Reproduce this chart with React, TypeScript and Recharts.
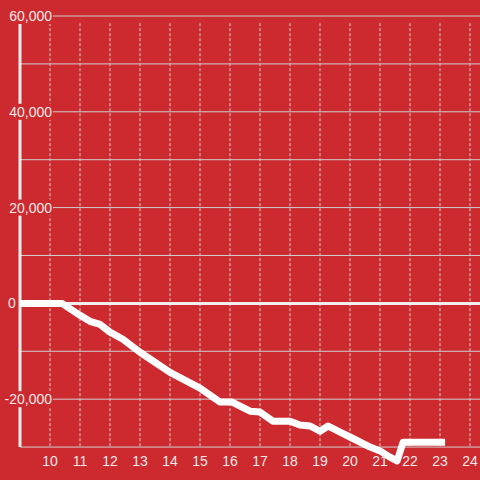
import { LineChart, Line, XAxis, YAxis, ReferenceLine } from "recharts";

// hour of day vs value
const hours = [9, 10.4, 11, 11.33, 11.67, 12, 12.43, 13, 14, 15, 15.67, 16.07, 16.67, 17, 17.43, 18, 18.33, 18.67, 19, 19.27, 19.67, 20, 20.67, 21, 21.33, 21.57, 21.77, 23.17];
const values = [0, 0, -2500, -3750, -4400, -6000, -7500, -10200, -14400, -17700, -20600, -20600, -22500, -22700, -24600, -24600, -25400, -25600, -26700, -25600, -26900, -27900, -30000, -30800, -32100, -32900, -29000, -29000];

const xTicks = [10, 11, 12, 13, 14, 15, 16, 17, 18, 19, 20, 21, 22, 23, 24];
const yTicks = [-30000, -20000, -10000, 0, 10000, 20000, 30000, 40000, 50000, 60000];
const yLabels = [60000, 40000, 20000, 0, -20000];

const data = hours.map((t, i) => ({ t, v: values[i] }));

const BG = "#cc2a2f";
const TEXT = "#f6e8e8";
const GRID = "#cfcfcf";
const AXIS = "#f2eeee";

const fmt = (v: number) => v.toLocaleString("en-US");

const YTick = (props: any) => {
  const { y, payload } = props;
  const v = payload.value;
  if (!yLabels.includes(v)) return <g />;
  const label = fmt(v);
  if (v === 0) {
    return (
      <g>
        <rect x={6} y={y - 8} width={11} height={16} fill={BG} />
        <text x={8} y={y + 5} fill={TEXT} fontSize={14} textAnchor="start">
          {label}
        </text>
      </g>
    );
  }
  return (
    <g>
      <rect x={2} y={y - 8} width={51} height={16} fill={BG} />
      <text x={52} y={y + 5} fill={TEXT} fontSize={14} textAnchor="end">
        {label}
      </text>
    </g>
  );
};

const XTick = (props: any) => {
  const { x, payload } = props;
  return (
    <text x={x} y={466} fill={TEXT} fontSize={14} textAnchor="middle">
      {payload.value}
    </text>
  );
};

export default function App() {
  return (
    <div
      style={{
        position: "absolute",
        left: 0,
        top: 0,
        width: 480,
        height: 480,
        background: BG,
        fontFamily: "'Liberation Sans', Arial, sans-serif",
      }}
    >
      <LineChart width={480} height={480} data={data} margin={{ top: 16, right: 0, bottom: 0, left: 0 }}>
        {/* horizontal grid */}
        {yTicks.map((v) => (
          <ReferenceLine key={"h" + v} y={v} stroke={GRID} strokeWidth={1} ifOverflow="visible" />
        ))}
        {/* vertical dashed grid */}
        {xTicks.map((t) => (
          <ReferenceLine
            key={"v" + t}
            segment={[
              { x: t, y: 58500 },
              { x: t, y: -30000 },
            ]}
            stroke={GRID}
            strokeDasharray="3 2"
            ifOverflow="visible"
          />
        ))}
        <ReferenceLine
          segment={[
            { x: 9, y: 60000 },
            { x: 9, y: -30000 },
          ]}
          stroke={AXIS}
          strokeWidth={3}
          ifOverflow="visible"
        />
        <ReferenceLine y={0} stroke={AXIS} strokeWidth={3} ifOverflow="visible" />
        <XAxis
          dataKey="t"
          type="number"
          domain={[9, 24.3333]}
          ticks={xTicks}
          height={1}
          axisLine={false}
          tickLine={false}
          tick={<XTick />}
          interval={0}
        />
        <YAxis
          type="number"
          domain={[-36666.67, 60000]}
          ticks={yTicks}
          width={20}
          axisLine={false}
          tickLine={false}
          tick={<YTick />}
          interval={0}
        />
        <Line
          type="linear"
          dataKey="v"
          stroke="#ffffff"
          strokeWidth={7}
          strokeLinejoin="round"
          dot={false}
          isAnimationActive={false}
        />
      </LineChart>
    </div>
  );
}
